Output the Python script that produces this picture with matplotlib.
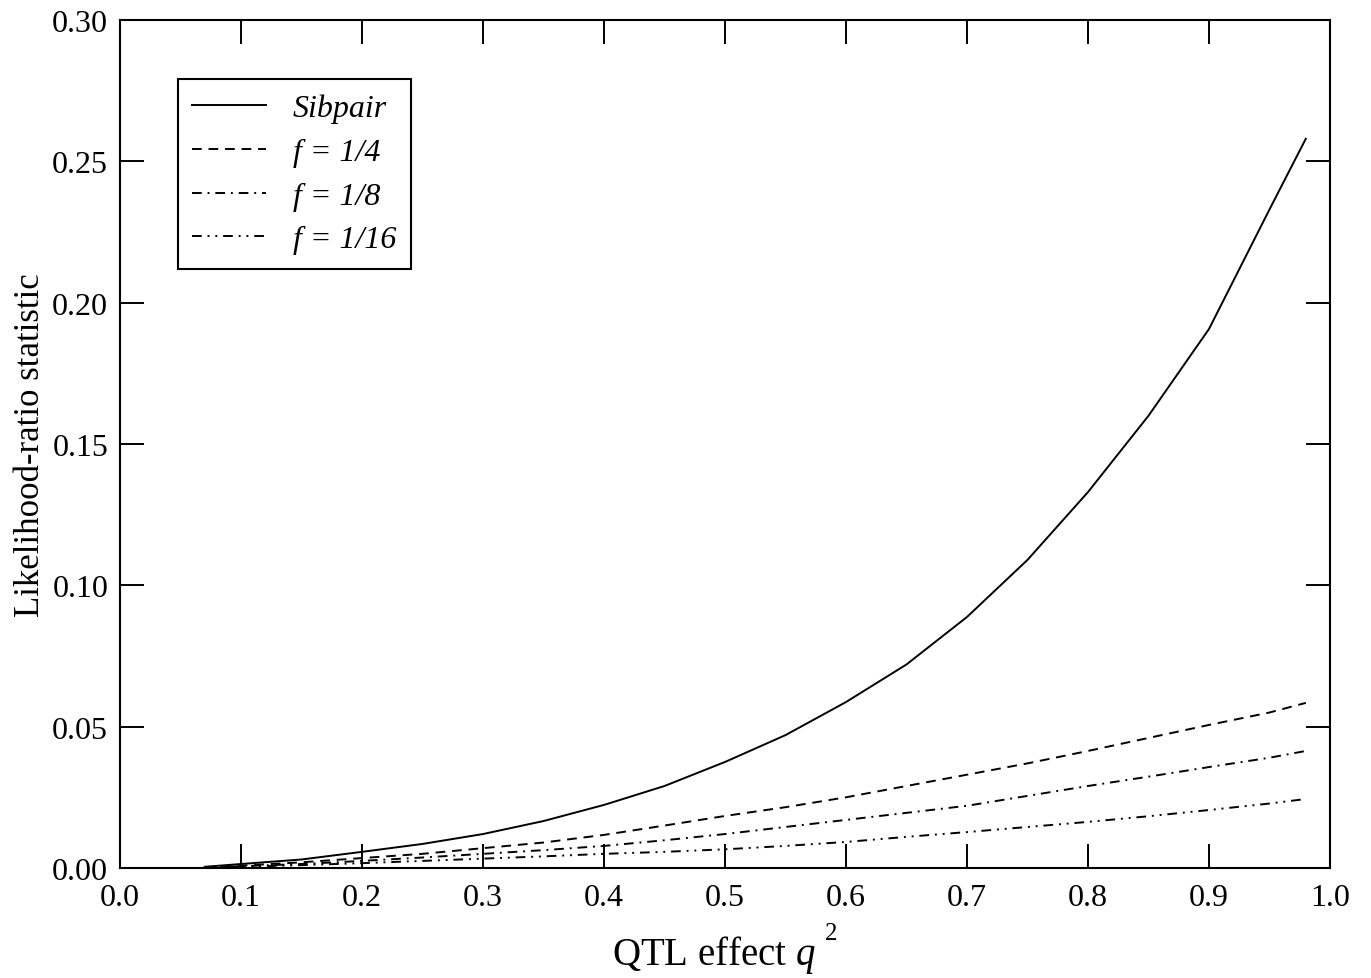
import matplotlib
matplotlib.use("Agg")
import matplotlib.pyplot as plt

plt.rcParams['font.family'] = ['Liberation Serif', 'DejaVu Serif']
plt.rcParams['mathtext.fontset'] = 'custom'
plt.rcParams['mathtext.rm'] = 'Liberation Serif'
plt.rcParams['mathtext.it'] = 'Liberation Serif:italic'

q2 = [0.07, 0.10, 0.15, 0.20, 0.25, 0.30, 0.35, 0.40, 0.45, 0.50, 0.55,
      0.60, 0.65, 0.70, 0.75, 0.80, 0.85, 0.90, 0.95, 0.98]
sibpair = [0.0004, 0.0014, 0.0030, 0.0057, 0.0085, 0.0120, 0.0166, 0.0223,
           0.0290, 0.0375, 0.0470, 0.0587, 0.0720, 0.0888, 0.1090, 0.1330,
           0.1600, 0.1907, 0.2330, 0.2580]
f_quarter = [0.0003, 0.0008, 0.0020, 0.0035, 0.0050, 0.0070, 0.0090, 0.0117,
             0.0150, 0.0184, 0.0215, 0.0250, 0.0290, 0.0330, 0.0370, 0.0414,
             0.0460, 0.0506, 0.0550, 0.0584]
f_eighth = [0.0002, 0.0006, 0.0014, 0.0025, 0.0037, 0.0050, 0.0063, 0.0078,
            0.0098, 0.0120, 0.0145, 0.0170, 0.0195, 0.0220, 0.0255, 0.0290,
            0.0323, 0.0357, 0.0390, 0.0414]
f_sixteenth = [0.0001, 0.0004, 0.0010, 0.0017, 0.0025, 0.0033, 0.0041, 0.0050,
               0.0057, 0.0066, 0.0078, 0.0092, 0.0110, 0.0127, 0.0145, 0.0163,
               0.0183, 0.0205, 0.0228, 0.0244]
labels = ['Sibpair', 'f = 1/4', 'f = 1/8', 'f = 1/16']
xticks = [0.0, 0.1, 0.2, 0.3, 0.4, 0.5, 0.6, 0.7, 0.8, 0.9, 1.0]
yticks = [0.00, 0.05, 0.10, 0.15, 0.20, 0.25, 0.30]

fig = plt.figure(figsize=(13.71, 9.79), dpi=100)
ax = fig.add_axes([0.0875, 0.1124, 0.8826, 0.8661])

lw = 1.4
ax.plot(q2, sibpair, color='black', lw=lw, linestyle='-', label=labels[0])
ax.plot(q2, f_quarter, color='black', lw=lw, linestyle=(0, (5, 3.5)), label=labels[1])
ax.plot(q2, f_eighth, color='black', lw=lw, linestyle=(0, (5, 3, 1, 3)), label=labels[2])
ax.plot(q2, f_sixteenth, color='black', lw=lw, linestyle=(0, (5, 3, 1, 3, 1, 3)), label=labels[3])

ax.set_xlim(0, 1.0)
ax.set_ylim(0, 0.30)
ax.set_xticks(xticks)
ax.set_yticks(yticks)
ax.set_xticklabels([f"{v:.1f}" for v in xticks])
ax.set_yticklabels([f"{v:.2f}" for v in yticks])
ax.tick_params(direction='in', length=17, width=1.4, top=True, right=True,
               labelsize=23, colors='black')
ax.tick_params(axis='x', pad=11)
ax.tick_params(axis='y', pad=8.5)
for s in ax.spines.values():
    s.set_linewidth(1.5)

ax.set_xlabel(r'QTL effect $q$', fontsize=28)
ax.xaxis.label.set_va('baseline')
ax.xaxis.set_label_coords(0.491, -0.1132)
ax.text(0.5826, -0.0837, '2', transform=ax.transAxes, fontsize=18,
        ha='left', va='baseline')
ax.set_ylabel('Likelihood-ratio statistic', fontsize=25, labelpad=4)

leg = ax.legend(loc='upper left', bbox_to_anchor=(0.048, 0.930), borderaxespad=0,
                handlelength=2.3, handletextpad=0.85, labelspacing=0.45,
                borderpad=0.45, fancybox=False, framealpha=1,
                prop={'style': 'italic', 'size': 23})
leg.get_frame().set_edgecolor('black')
leg.get_frame().set_linewidth(1.5)

fig.savefig('out.png', dpi=100)
